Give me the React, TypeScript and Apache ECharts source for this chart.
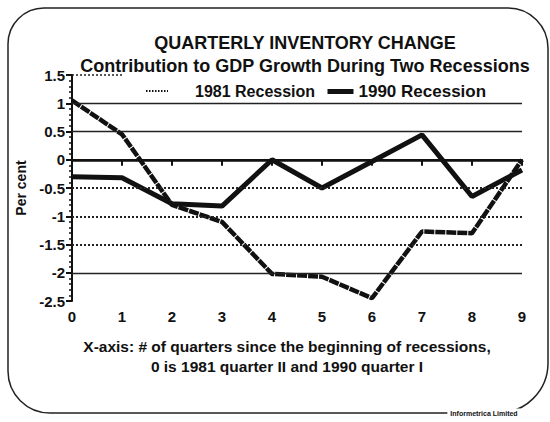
import React, { useEffect, useRef } from 'react';
import * as echarts from 'echarts';

const quarters = ['0', '1', '2', '3', '4', '5', '6', '7', '8', '9'];
const recession1981 = [1.05, 0.45, -0.8, -1.1, -2.02, -2.07, -2.45, -1.27, -1.3, 0.0];
const recession1990 = [-0.3, -0.32, -0.78, -0.82, 0.0, -0.5, -0.03, 0.44, -0.65, -0.18];
const yMin = -2.5;
const yMax = 1.5;
const yInterval = 0.5;
const solidGridValues = [1, 0.5, -2];
const dottedGridValues = [-0.5, -1, -1.5];
const zeroValue = 0;
const topGridValue = 1.5;

const FONT = "'Liberation Sans', Arial, Helvetica, sans-serif";
const INK = '#111';

export default function App() {
  const ref = useRef<HTMLDivElement>(null);
  useEffect(() => {
    if (!ref.current) return;
    const chart = echarts.init(ref.current, undefined, { renderer: 'svg' });
    const markData: any[] = [];
    solidGridValues.forEach((v) =>
      markData.push({ yAxis: v, lineStyle: { type: 'solid', width: 1.3, color: '#222' } })
    );
    dottedGridValues.forEach((v) =>
      markData.push({ yAxis: v, lineStyle: { type: [2, 2], width: 2, color: '#222' } })
    );
    markData.push({ yAxis: zeroValue, lineStyle: { type: 'solid', width: 2.5, color: INK } });
    markData.push([
      { xAxis: quarters[0], yAxis: topGridValue, lineStyle: { type: [2, 2], width: 1.5, color: '#222' } },
      { xAxis: quarters[1], yAxis: topGridValue },
    ]);

    chart.setOption({
      animation: false,
      backgroundColor: '#fff',
      title: [
        {
          text: 'QUARTERLY INVENTORY CHANGE',
          left: 300,
          top: 29,
          textAlign: 'center',
          textStyle: { fontFamily: FONT, fontSize: 18, fontWeight: 'bold', color: INK },
        },
        {
          text: 'Contribution to GDP Growth During Two Recessions',
          left: 300,
          top: 52,
          textAlign: 'center',
          textStyle: { fontFamily: FONT, fontSize: 18, fontWeight: 'bold', color: INK },
        },
      ],
      legend: [
        {
          data: [
            {
              name: '1981 Recession',
              itemStyle: { opacity: 0 },
              lineStyle: { width: 2, type: [1.5, 1.5], color: INK },
            },
          ],
          left: 140,
          top: 78,
          itemWidth: 22,
          itemHeight: 10,
          textStyle: { fontFamily: FONT, fontSize: 16, fontWeight: 'bold', color: INK, padding: [0, 0, 0, 22] },
        },
        {
          data: [
            {
              name: '1990 Recession',
              itemStyle: { opacity: 0 },
              lineStyle: { width: 5, type: 'solid', color: INK },
            },
          ],
          left: 320,
          top: 78,
          itemWidth: 26,
          itemHeight: 10,
          textStyle: { fontFamily: FONT, fontSize: 17, fontWeight: 'bold', color: INK },
        },
      ],
      grid: { left: 72, right: 28, top: 75, bottom: 121 },
      xAxis: {
        type: 'category',
        data: quarters,
        boundaryGap: false,
        axisLine: { lineStyle: { color: INK, width: 2 } },
        axisTick: { show: true, length: 6, lineStyle: { color: INK, width: 2 } },
        axisLabel: { fontFamily: FONT, fontSize: 15, fontWeight: 'bold', color: INK, margin: 8 },
        splitLine: { show: false },
        name: 'X-axis: # of quarters since the beginning of recessions,\n0 is 1981 quarter II and 1990 quarter I',
        nameLocation: 'middle',
        nameGap: 35,
        nameTextStyle: {
          fontFamily: FONT,
          fontSize: 15.5,
          fontWeight: 'bold',
          color: INK,
          lineHeight: 20,
          padding: [0, 20, 0, 0],
        },
      },
      yAxis: {
        type: 'value',
        min: yMin,
        max: yMax,
        interval: yInterval,
        axisLine: { show: true, lineStyle: { color: INK, width: 2 } },
        axisTick: { show: true, length: 6, lineStyle: { color: INK, width: 2 } },
        minorTick: { show: true, splitNumber: 5, length: 3, lineStyle: { color: INK, width: 1.5 } },
        axisLabel: { fontFamily: FONT, fontSize: 15, fontWeight: 'bold', color: INK, margin: 7 },
        splitLine: { show: false },
        name: 'Per cent',
        nameLocation: 'middle',
        nameRotate: 90,
        nameGap: 40,
        nameTextStyle: { fontFamily: FONT, fontSize: 14, fontWeight: 'bold', color: INK },
      },
      series: [
        {
          name: 'grid',
          type: 'line',
          data: quarters.map(() => '-'),
          symbol: 'none',
          silent: true,
          z: 1,
          markLine: {
            silent: true,
            symbol: 'none',
            label: { show: false },
            animation: false,
            data: markData,
          },
        },
        {
          name: '1981 Recession',
          type: 'line',
          data: recession1981,
          symbol: 'none',
          z: 3,
          lineStyle: { color: '#111', width: 4.5, type: [10, 1] },
          itemStyle: { color: '#111' },
        },
        {
          name: '1990 Recession',
          type: 'line',
          data: recession1990,
          symbol: 'none',
          z: 4,
          lineStyle: { color: INK, width: 5, type: 'solid' },
          itemStyle: { color: INK },
        },
      ],
      graphic: [
        {
          type: 'rect',
          shape: { x: 8, y: 8, width: 540, height: 405, r: [36, 40, 50, 42] },
          style: { fill: 'none', stroke: '#222', lineWidth: 1.5 },
          z: -1,
          silent: true,
        },
        {
          type: 'text',
          x: 484,
          y: 413,
          style: {
            text: 'Informetrica Limited',
            fontFamily: FONT,
            fontSize: 7,
            fontWeight: 'bold',
            fill: INK,
            align: 'center',
            verticalAlign: 'middle',
            backgroundColor: '#fff',
            padding: [1, 3],
          },
          z: 10,
        },
      ],
    });
    return () => chart.dispose();
  }, []);
  return (
    <div
      ref={ref}
      style={{ position: 'absolute', left: 0, top: 0, width: 550, height: 422 }}
    />
  );
}
